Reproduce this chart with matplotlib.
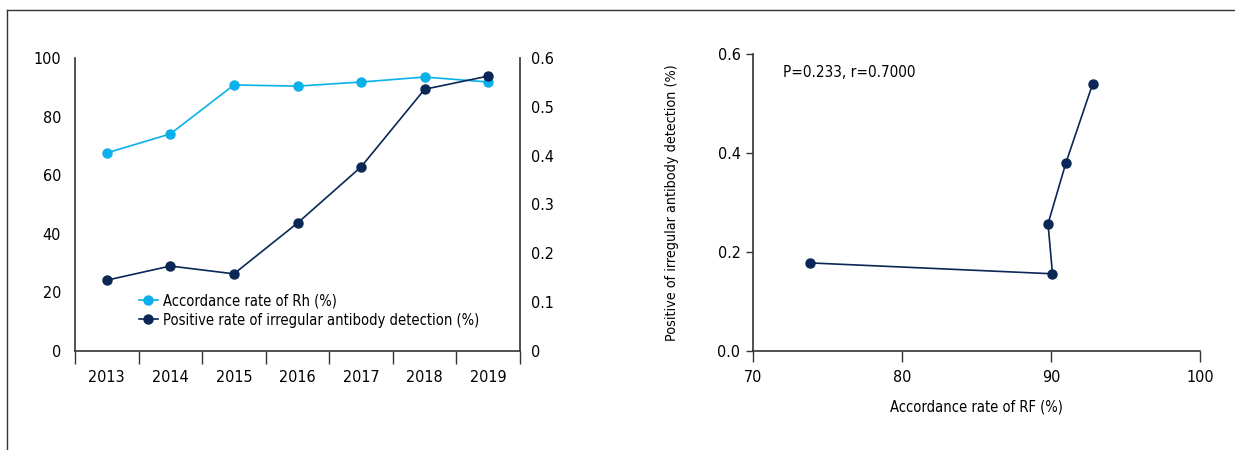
import matplotlib.pyplot as plt
from matplotlib.lines import Line2D

plt.rcParams["font.family"] = ["DejaVu Sans"]
plt.rcParams["font.stretch"] = "condensed"

years = ["2013", "2014", "2015", "2016", "2017", "2018", "2019"]
rh_rate = [67.6, 74.1, 90.8, 90.4, 91.8, 93.5, 91.8]
antibody_rate = [0.145, 0.174, 0.158, 0.262, 0.377, 0.536, 0.563]

rf_rate = [73.8, 90.1, 89.8, 91.0, 92.8]
antibody_pos = [0.178, 0.156, 0.257, 0.380, 0.540]

light_blue = "#0bb0ea"
navy = "#0a2756"
axis_col = "#333333"

fig = plt.figure(figsize=(12.35, 4.5), dpi=100)

# 左图：双y轴折线
ax1 = fig.add_axes([75 / 1235, 1 - 351 / 450, 445 / 1235, 293 / 450])
ax2 = ax1.twinx()
x = list(range(len(years)))
ax1.plot(x, rh_rate, color=light_blue, marker="o", markersize=6.5, lw=1.2, zorder=3)
ax2.plot(x, antibody_rate, color=navy, marker="o", markersize=6.5, lw=1.2, zorder=3)

ax1.set_xlim(-0.5, 6.5)
ax1.set_ylim(0, 100)
ax2.set_ylim(0, 0.6)
ax1.set_xticks(x)
ax1.set_xticklabels(years)
ax1.set_xticks([i - 0.5 for i in range(8)], minor=True)
ax1.tick_params(axis="x", which="major", length=0, pad=14, labelsize=11.5)
ax1.tick_params(axis="x", which="minor", length=9, width=1, color=axis_col)
ax1.tick_params(axis="y", length=0, pad=10, labelsize=11.5)
ax2.tick_params(axis="y", length=0, pad=8, labelsize=11.5)
ax1.set_yticks([0, 20, 40, 60, 80, 100])
ax2.set_yticks([0, 0.1, 0.2, 0.3, 0.4, 0.5, 0.6])
ax2.set_yticklabels(["0", "0.1", "0.2", "0.3", "0.4", "0.5", "0.6"])
for a in (ax1, ax2):
    a.spines["top"].set_visible(False)
    for s in ("left", "right", "bottom"):
        a.spines[s].set_color(axis_col)
        a.spines[s].set_linewidth(1.2)
ax1.spines["right"].set_visible(False)
ax2.spines["left"].set_visible(False)
ax2.spines["bottom"].set_visible(False)

handles = [
    Line2D([], [], color=light_blue, marker="o", markersize=6.5, lw=1.2),
    Line2D([], [], color=navy, marker="o", markersize=6.5, lw=1.2),
]
labels = ["Accordance rate of Rh (%)", "Positive rate of irregular antibody detection (%)"]
ax1.legend(handles, labels, loc="lower left", bbox_to_anchor=(0.13, 0.06),
           frameon=False, fontsize=10.5, handlelength=1.3,
           handletextpad=0.4, labelspacing=0.3, borderaxespad=0)

# 右图：相关性
ax3 = fig.add_axes([753 / 1235, 1 - 351 / 450, 447 / 1235, 297 / 450])
ax3.plot(rf_rate, antibody_pos, color=navy, marker="o", markersize=6.5, lw=1.2)
ax3.set_xlim(70, 100)
ax3.set_ylim(0, 0.6)
ax3.set_xticks([70, 80, 90, 100])
ax3.set_yticks([0.0, 0.2, 0.4, 0.6])
ax3.set_yticklabels(["0.0", "0.2", "0.4", "0.6"])
ax3.tick_params(axis="x", length=8, width=1, color=axis_col, pad=6, labelsize=11.5)
ax3.tick_params(axis="y", length=5, width=1, color=axis_col, pad=4, labelsize=11.5)
ax3.spines["top"].set_visible(False)
ax3.spines["right"].set_visible(False)
for s in ("left", "bottom"):
    ax3.spines[s].set_color(axis_col)
    ax3.spines[s].set_linewidth(1.2)
ax3.set_xlabel("Accordance rate of RF (%)", fontsize=10.5, labelpad=10)
ax3.set_ylabel("Positive of irregular antibody detection (%)", fontsize=10.3, labelpad=28)
ax3.text(72.0, 0.562, "P=0.233, r=0.7000", fontsize=11, va="center", ha="left")

# 外框线
fig.add_artist(Line2D([7 / 1235, 1], [1 - 10 / 450, 1 - 10 / 450], color=axis_col, lw=1))
fig.add_artist(Line2D([7 / 1235, 7 / 1235], [0, 1 - 10 / 450], color=axis_col, lw=1))

fig.savefig("out.png", dpi=100)
